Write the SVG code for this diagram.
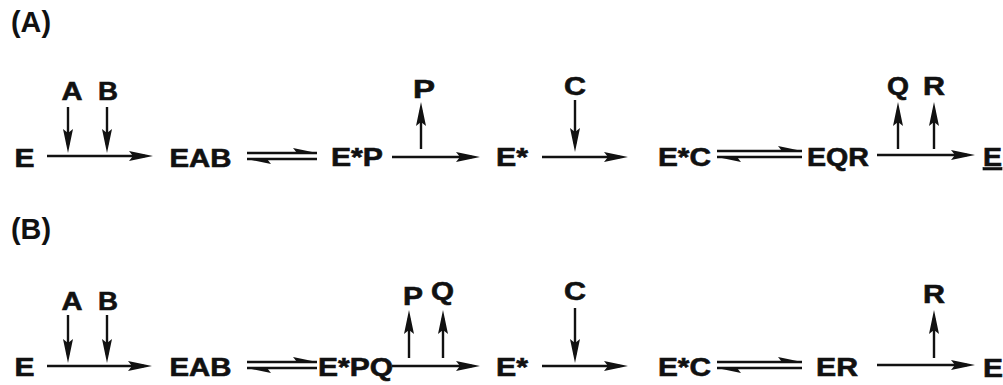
<svg xmlns="http://www.w3.org/2000/svg" width="1003" height="385" viewBox="0 0 1003 385">
<style>
.t{font-family:"Liberation Sans",Arial,sans-serif;font-weight:bold;font-size:25px;fill:#111;stroke:#111;stroke-width:0.6}
.h{font-family:"Liberation Sans",Arial,sans-serif;font-weight:bold;font-size:29px;fill:#111}
.c line{stroke:#111;stroke-width:2.4}
.c polygon{fill:#111}
</style>
<defs>
<marker id="ah" viewBox="0 0 24 11" refX="16" refY="5.5" markerWidth="24" markerHeight="11" markerUnits="userSpaceOnUse" orient="auto">
<path d="M0,0.5 L24,5.5 L0,10.5 L4,5.5 z" fill="#111"/>
</marker>
</defs>
<rect width="1003" height="385" fill="#fff"/>
<text class="h" x="11" y="32" textLength="40" lengthAdjust="spacingAndGlyphs">(A)</text>
<text class="h" x="11" y="239" textLength="40" lengthAdjust="spacingAndGlyphs">(B)</text>

<g id="rowA">
<g id="A_E"><text class="t" x="14.5" y="166.5" textLength="20" lengthAdjust="spacingAndGlyphs">E</text></g>
<g id="A_EAB"><text class="t" x="169.5" y="166.5" textLength="62" lengthAdjust="spacingAndGlyphs">EAB</text></g>
<g id="A_EsP"><text class="t" x="331" y="165.5" textLength="52" lengthAdjust="spacingAndGlyphs">E*P</text></g>
<g id="A_Es"><text class="t" x="496" y="165.5" textLength="32" lengthAdjust="spacingAndGlyphs">E*</text></g>
<g id="A_EsC"><text class="t" x="658" y="165.5" textLength="53" lengthAdjust="spacingAndGlyphs">E*C</text></g>
<g id="A_EQR"><text class="t" x="807" y="165.5" textLength="62" lengthAdjust="spacingAndGlyphs">EQR</text></g>
<g id="A_E2"><text class="t" x="983" y="165.5" textLength="19" lengthAdjust="spacingAndGlyphs" text-decoration="underline">E</text></g>
<g id="A_A"><text class="t" x="61.5" y="100" textLength="21" lengthAdjust="spacingAndGlyphs">A</text></g>
<g id="A_B"><text class="t" x="98" y="100" textLength="20" lengthAdjust="spacingAndGlyphs">B</text></g>
<g id="A_P"><text class="t" x="413" y="98" textLength="22" lengthAdjust="spacingAndGlyphs">P</text></g>
<g id="A_C"><text class="t" x="564" y="95" textLength="22" lengthAdjust="spacingAndGlyphs">C</text></g>
<g id="A_Q"><text class="t" x="887" y="95" textLength="22" lengthAdjust="spacingAndGlyphs">Q</text></g>
<g id="A_R"><text class="t" x="923" y="95" textLength="22" lengthAdjust="spacingAndGlyphs">R</text></g>
</g>

<g id="rowB">
<g id="B_E"><text class="t" x="14.5" y="375.5" textLength="20" lengthAdjust="spacingAndGlyphs">E</text></g>
<g id="B_EAB"><text class="t" x="169.5" y="375.5" textLength="62" lengthAdjust="spacingAndGlyphs">EAB</text></g>
<g id="B_EsPQ"><text class="t" x="318" y="375.5" textLength="75" lengthAdjust="spacingAndGlyphs">E*PQ</text></g>
<g id="B_Es"><text class="t" x="496" y="375.5" textLength="32" lengthAdjust="spacingAndGlyphs">E*</text></g>
<g id="B_EsC"><text class="t" x="658" y="375.5" textLength="53" lengthAdjust="spacingAndGlyphs">E*C</text></g>
<g id="B_ER"><text class="t" x="816" y="375.5" textLength="42" lengthAdjust="spacingAndGlyphs">ER</text></g>
<g id="B_E2"><text class="t" x="983" y="376.5" textLength="20" lengthAdjust="spacingAndGlyphs">E</text></g>
<g id="B_A"><text class="t" x="61.5" y="310" textLength="21" lengthAdjust="spacingAndGlyphs">A</text></g>
<g id="B_B"><text class="t" x="98" y="310" textLength="20" lengthAdjust="spacingAndGlyphs">B</text></g>
<g id="B_P"><text class="t" x="403" y="305" textLength="20" lengthAdjust="spacingAndGlyphs">P</text></g>
<g id="B_Q"><text class="t" x="431" y="300" textLength="23" lengthAdjust="spacingAndGlyphs">Q</text></g>
<g id="B_C"><text class="t" x="564" y="300" textLength="22" lengthAdjust="spacingAndGlyphs">C</text></g>
<g id="B_R"><text class="t" x="923" y="303" textLength="22" lengthAdjust="spacingAndGlyphs">R</text></g>
</g>

<g id="connectors" class="c">
<!-- row A -->
<line x1="47" y1="156" x2="145" y2="156" marker-end="url(#ah)"/>
<line x1="68" y1="107" x2="68" y2="145" marker-end="url(#ah)"/>
<line x1="107" y1="107" x2="107" y2="145" marker-end="url(#ah)"/>
<line x1="247" y1="153" x2="317" y2="153"/>
<polygon points="317,153 293,148 297,153"/>
<line x1="247" y1="159" x2="317" y2="159"/>
<polygon points="247,159 271,164 267,159"/>
<line x1="392" y1="157" x2="472" y2="157" marker-end="url(#ah)"/>
<line x1="421" y1="149" x2="421" y2="110" marker-end="url(#ah)"/>
<line x1="542" y1="157" x2="620" y2="157" marker-end="url(#ah)"/>
<line x1="575" y1="100" x2="575" y2="144" marker-end="url(#ah)"/>
<line x1="717" y1="151" x2="802" y2="151"/>
<polygon points="802,151 778,146 782,151"/>
<line x1="717" y1="157" x2="802" y2="157"/>
<polygon points="717,157 741,162 737,157"/>
<line x1="877" y1="155" x2="967" y2="155" marker-end="url(#ah)"/>
<line x1="898" y1="149" x2="898" y2="110" marker-end="url(#ah)"/>
<line x1="934" y1="149" x2="934" y2="110" marker-end="url(#ah)"/>
<!-- row B -->
<line x1="47" y1="366" x2="144" y2="366" marker-end="url(#ah)"/>
<line x1="68" y1="315" x2="68" y2="355" marker-end="url(#ah)"/>
<line x1="107" y1="315" x2="107" y2="355" marker-end="url(#ah)"/>
<line x1="247" y1="362" x2="317" y2="362"/>
<polygon points="317,362 293,357 297,362"/>
<line x1="247" y1="368" x2="317" y2="368"/>
<polygon points="247,368 271,373 267,368"/>
<line x1="392" y1="366" x2="472" y2="366" marker-end="url(#ah)"/>
<line x1="409" y1="358" x2="409" y2="318" marker-end="url(#ah)"/>
<line x1="443" y1="358" x2="443" y2="318" marker-end="url(#ah)"/>
<line x1="542" y1="366" x2="620" y2="366" marker-end="url(#ah)"/>
<line x1="575" y1="308" x2="575" y2="355" marker-end="url(#ah)"/>
<line x1="717" y1="362" x2="802" y2="362"/>
<polygon points="802,362 778,357 782,362"/>
<line x1="717" y1="368" x2="802" y2="368"/>
<polygon points="717,368 741,373 737,368"/>
<line x1="877" y1="365" x2="967" y2="365" marker-end="url(#ah)"/>
<line x1="934" y1="358" x2="934" y2="318" marker-end="url(#ah)"/>
</g>
</svg>
